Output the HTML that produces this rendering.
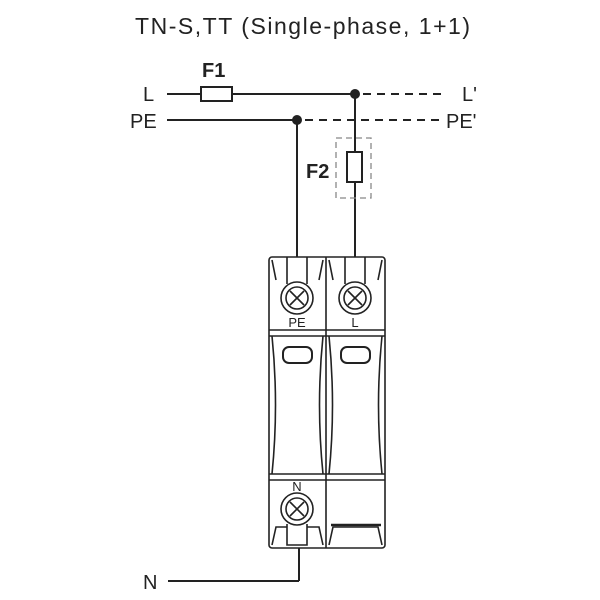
<!DOCTYPE html>
<html><head><style>body{margin:0;background:#fff}svg{display:block}</style></head><body>
<svg width="600" height="600" viewBox="0 0 600 600" xmlns="http://www.w3.org/2000/svg" font-family="Liberation Sans, sans-serif">
<text x="135" y="34" font-size="23" textLength="335" fill="#222">TN-S,TT  (Single-phase, 1+1)</text>
<g stroke="#222" stroke-width="2" fill="none">
<line x1="167" y1="94" x2="201" y2="94"/><rect x="201" y="87" width="31" height="14"/><line x1="232" y1="94" x2="355" y2="94"/>
<line x1="167" y1="120" x2="297" y2="120"/>
<line x1="297" y1="120" x2="297" y2="257"/>
<line x1="355" y1="94" x2="355" y2="152"/><rect x="347" y="152" width="15" height="30"/><line x1="355" y1="182" x2="355" y2="257"/>
<line x1="363" y1="94" x2="445" y2="94" stroke-dasharray="8,6"/>
<line x1="305" y1="120" x2="445" y2="120" stroke-dasharray="8,6"/>
<line x1="299" y1="548" x2="299" y2="581"/><line x1="168" y1="581" x2="299" y2="581"/>
</g>
<rect x="336" y="138" width="35" height="60" fill="none" stroke="#888" stroke-width="1.3" stroke-dasharray="6,4"/>
<circle cx="355" cy="94" r="5" fill="#222"/><circle cx="297" cy="120" r="5" fill="#222"/>
<g font-size="20" fill="#222"><text x="143" y="101">L</text><text x="130" y="128">PE</text><text x="462" y="101">L'</text><text x="446" y="128">PE'</text><text x="143" y="589">N</text></g>
<g font-size="20" font-weight="bold" fill="#222"><text x="202" y="77">F1</text><text x="306" y="178">F2</text></g>
<g stroke="#222" stroke-width="1.6" fill="none">
<rect x="269" y="257" width="116" height="291" rx="3"/>
<line x1="326" y1="257" x2="326" y2="548"/>
<line x1="269" y1="330" x2="385" y2="330"/><line x1="269" y1="336" x2="385" y2="336"/>
<line x1="269" y1="474" x2="385" y2="474"/><line x1="269" y1="480" x2="385" y2="480"/>
<path d="M272 336 Q279 405 272 474 M323 336 Q316 405 323 474 M329 336 Q336 405 329 474 M382 336 Q375 405 382 474"/>
<path d="M272 260 L276 280 M323 260 L319 280 M329 260 L333 280 M382 260 L378 280"/>
<path d="M272 545 L276 527 L287 527 M307 527 L319 527 L323 545 M329 545 L333 527 L378 527 L382 545"/>
<path d="M287 257 V284 M307 257 V284 M345 257 V284 M365 257 V284"/>
<path d="M287 524 V545 H307 V524"/>
<circle cx="297" cy="298" r="16" fill="#fff"/><circle cx="297" cy="298" r="11"/><path d="M290 291 L304 305 M304 291 L290 305"/>
<circle cx="355" cy="298" r="16" fill="#fff"/><circle cx="355" cy="298" r="11"/><path d="M348 291 L362 305 M362 291 L348 305"/>
<circle cx="297" cy="509" r="16" fill="#fff"/><circle cx="297" cy="509" r="11"/><path d="M290 502 L304 516 M304 502 L290 516"/>
<rect x="283" y="347" width="29" height="16" rx="6" stroke-width="2"/>
<rect x="341" y="347" width="29" height="16" rx="6" stroke-width="2"/>
</g>
<line x1="331" y1="525" x2="381" y2="525" stroke="#222" stroke-width="2.5"/>
<g font-size="13" fill="#222" text-anchor="middle"><text x="297" y="327">PE</text><text x="355" y="327">L</text><text x="297" y="491">N</text></g>
</svg>
</body></html>
